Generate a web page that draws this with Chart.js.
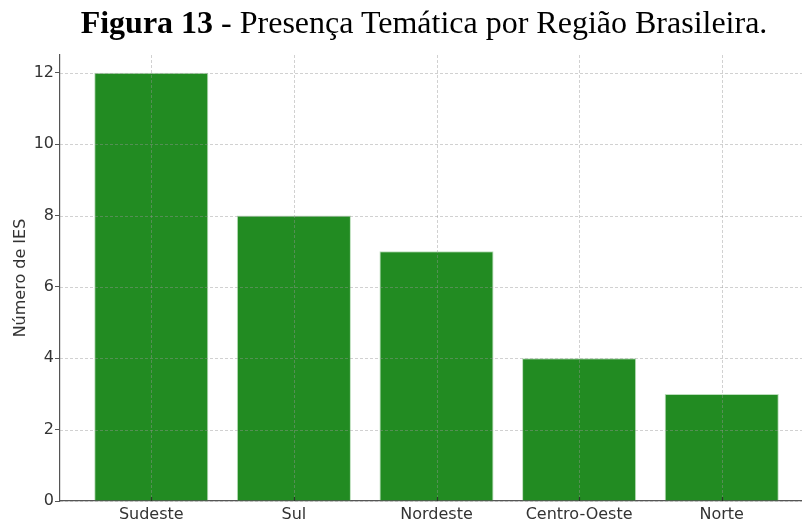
<!DOCTYPE html>
<html>
<head>
<meta charset="utf-8">
<script src="https://cdn.jsdelivr.net/npm/chart.js@4"></script>
<style>
    html, body { margin: 0; padding: 0; background: #fff; overflow: hidden; }
    #wrap { position: relative; width: 820px; height: 522px; }
    #title {
        position: absolute; left: 0; top: 4px; width: 848px; text-align: center;
        font-family: "Liberation Serif", "Times New Roman", serif; font-size: 32px; color: #000;
        white-space: nowrap;
    }
</style>
</head>
<body>
<div id="wrap">
    <canvas id="chart"></canvas>
    <div id="title"><b>Figura 13</b> - Presença Temática por Região Brasileira.</div>
</div>
<script>
// regions and number of institutions
const regioes = ["Sudeste", "Sul", "Nordeste", "Centro-Oeste", "Norte"];
const numeroIES = [12, 8, 7, 4, 3];
const yTicks = [0, 2, 4, 6, 8, 10, 12];

const tickFont = { family: "DejaVu Sans", size: 16 };

// dashed grid drawn over the bars, like the original, plus short inner x ticks
const gridOverlay = {
    id: "gridOverlay",
    afterDatasetsDraw: (chart) => {
        const { ctx, chartArea: a, scales: { x, y } } = chart;
        ctx.save();
        ctx.strokeStyle = "rgba(150, 150, 150, 0.55)";
        ctx.lineWidth = 0.8;
        ctx.setLineDash([3, 2]);
        ctx.beginPath();
        x.ticks.forEach((t) => {
            const px = Math.round(x.getPixelForValue(t.value)) + 0.5;
            ctx.moveTo(px, a.top);
            ctx.lineTo(px, a.bottom);
        });
        y.ticks.forEach((t) => {
            const py = Math.round(y.getPixelForValue(t.value)) + 0.5;
            ctx.moveTo(a.left, py);
            ctx.lineTo(a.right, py);
        });
        ctx.stroke();
        ctx.setLineDash([]);
        ctx.strokeStyle = "#2a3a2a";
        ctx.lineWidth = 1.2;
        ctx.beginPath();
        x.ticks.forEach((t) => {
            const px = Math.round(x.getPixelForValue(t.value)) + 0.5;
            ctx.moveTo(px, a.bottom);
            ctx.lineTo(px, a.bottom - 4);
        });
        ctx.stroke();
        ctx.restore();
    },
};

new Chart(document.getElementById("chart").getContext("2d"), {
    type: "bar",
    data: {
        datasets: [{
            data: numeroIES.map((v, i) => ({ x: i, y: v })),
            backgroundColor: "#228B22",
            borderColor: "rgba(120, 190, 120, 0.5)",
            borderWidth: 1,
            categoryPercentage: 0.8,
            barPercentage: 1,
        }],
    },
    options: {
        responsive: true,
        maintainAspectRatio: false,
        animation: false,
        layout: { padding: { top: 55, right: 7, bottom: 0, left: 0 } },
        plugins: { legend: { display: false }, tooltip: { enabled: false } },
        scales: {
            x: {
                type: "linear",
                offset: false,
                min: -0.64,
                max: 4.64,
                afterBuildTicks: (s) => { s.ticks = regioes.map((_, i) => ({ value: i })); },
                afterFit: (s) => { s.height = 21; },
                ticks: {
                    font: tickFont, color: "#333", padding: 4,
                    callback: (v) => regioes[v] || "",
                },
                grid: { offset: false, drawOnChartArea: false, drawTicks: false },
                border: { display: true, color: "#555", width: 1.2 },
            },
            y: {
                min: 0,
                max: 12.5,
                afterBuildTicks: (s) => { s.ticks = yTicks.map((v) => ({ value: v })); },
                afterFit: (s) => { s.width = 60; },
                ticks: { font: tickFont, color: "#333", padding: 1 },
                grid: { drawOnChartArea: false, tickLength: 5, tickColor: "#555" },
                border: { display: true, color: "#555", width: 1.2 },
                title: {
                    display: true, text: "Número de IES", color: "#333",
                    font: { family: "DejaVu Sans", size: 16 }, padding: { top: 11, bottom: 0 },
                },
            },
        },
    },
    plugins: [gridOverlay],
});
</script>
</body>
</html>
